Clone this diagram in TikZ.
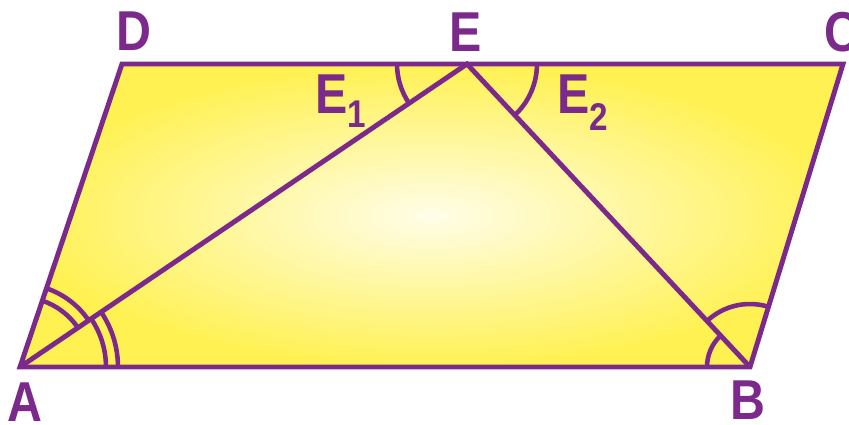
\documentclass[tikz,border=0pt]{standalone}
\usepackage{fontspec}
\newfontfamily\lblfont{Liberation Sans}[FakeStretch=0.86]
\usepackage{xcolor}
\usetikzlibrary{angles}
\definecolor{edgepurple}{HTML}{7B2A8C}
\definecolor{fillyellow}{HTML}{FFF152}
\definecolor{glowyellow}{HTML}{FFFDE8}

\begin{document}
\begin{tikzpicture}[
  x=0.02cm, y=0.02cm,
  edge/.style={draw=edgepurple, line width=2.8pt, line join=miter},
  anglemark/.style={draw=edgepurple, line width=2.6pt},
  lbl/.style={text=edgepurple, inner sep=0pt,
              font=\lblfont\bfseries\fontsize{32}{32}\selectfont},
]
\useasboundingbox (0,0) rectangle (849,424);
%% Corner points
\coordinate (A) at (20,57);
\coordinate (B) at (750,57);
\coordinate (C) at (843,360);
\coordinate (D) at (122,360);
\coordinate (E) at (467,360);
%% Yellow parallelogram
\shade[inner color=glowyellow, outer color=fillyellow]
  (A) -- (B) -- (C) -- (D) -- cycle;
%% Angle marks
\pic[anglemark, angle radius=1.40cm] {angle=E--A--D};
\pic[anglemark, angle radius=1.66cm] {angle=E--A--D};
\pic[anglemark, angle radius=1.72cm] {angle=B--A--E};
\pic[anglemark, angle radius=1.96cm] {angle=B--A--E};
\pic[anglemark, angle radius=0.86cm] {angle=E--B--A};
\pic[anglemark, angle radius=1.26cm] {angle=C--B--E};
\pic[anglemark, angle radius=1.40cm] {angle=D--E--A};
\pic[anglemark, angle radius=1.40cm] {angle=B--E--C};
%% Sides and diagonals
\draw[edge] (A) -- (B) -- (C) -- (D) -- cycle;
\draw[edge] (A) -- (E) -- (B);
%% Labels
\node[lbl] (lD) at (134,393) {D};
\node[lbl] (lE) at (466,392) {E};
\node[lbl] (lC) at (842,392) {C};
\node[lbl] (lA) at (25,22) {A};
\node[lbl] (lB) at (748,24) {B};
\node[lbl, anchor=base west] (lE1) at (315,311)
  {E\raisebox{-8.5pt}{\fontsize{22}{22}\selectfont 1}};
\node[lbl, anchor=base west] (lE2) at (557,311)
  {E\raisebox{-10pt}{\fontsize{22}{22}\selectfont 2}};
\end{tikzpicture}
\end{document}
